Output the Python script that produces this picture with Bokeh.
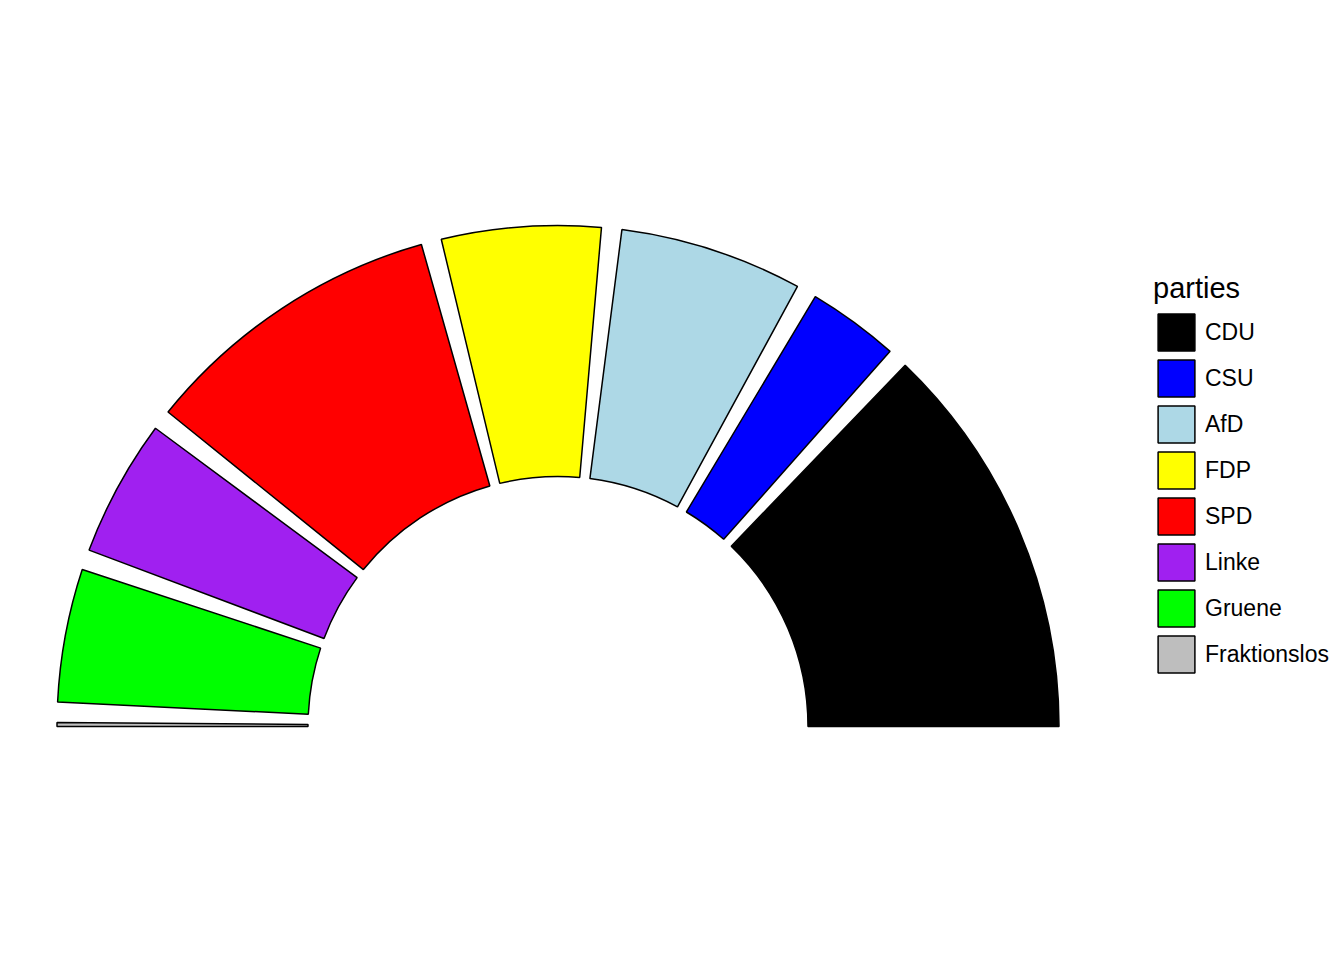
import math
from bokeh.plotting import figure
from bokeh.models import ColumnDataSource, Legend, LegendItem, Range1d
from bokeh.embed import file_html
from bokeh.resources import INLINE

parties = ["CDU", "CSU", "AfD", "FDP", "SPD", "Linke", "Gruene", "Fraktionslos"]
seats = [200, 46, 92, 80, 153, 69, 67, 2]
colors = ["#000000", "#0000FF", "#ADD8E6", "#FFFF00", "#FF0000", "#A020F0", "#00FF00", "#BEBEBE"]

W, H = 1344, 960
cx, cy = 557.5, H - 726
r_in, r_out = 250, 501
gap = math.radians(2.35)

avail = math.pi - gap * (len(seats) - 1)
total = sum(seats)
starts, ends = [], []
a = 0.0
for s in seats:
    span = avail * s / total
    starts.append(a)
    ends.append(a + span)
    a += span + gap

src = ColumnDataSource(dict(x=[cx] * len(seats), y=[cy] * len(seats),
                            start=starts, end=ends, color=colors, party=parties))

p = figure(width=W, height=H, output_backend="svg", toolbar_location=None,
           x_range=Range1d(0, W), y_range=Range1d(0, H), min_border=0)
p.axis.visible = False
p.grid.visible = False
p.outline_line_color = None
p.background_fill_color = "white"

wedges = p.annular_wedge(x="x", y="y", inner_radius=r_in, outer_radius=r_out,
                         start_angle="start", end_angle="end", fill_color="color",
                         line_color="black", line_width=1.5, source=src)

items = [LegendItem(label=name, renderers=[wedges], index=i)
         for i, name in enumerate(parties)]

legend = Legend(items=items, location=(1153, H - 677), orientation="vertical",
                glyph_width=46, glyph_height=46, spacing=0, padding=0, margin=0,
                label_standoff=6, label_text_font="Liberation Sans",
                label_text_font_size="23px", label_text_color="black",
                title="parties", title_text_font="Liberation Sans",
                title_text_font_size="29px", title_text_font_style="normal",
                title_text_color="black", title_standoff=4,
                border_line_color=None, background_fill_alpha=0)
p.add_layout(legend, "center")

open("out.html", "w").write(file_html(p, INLINE))
